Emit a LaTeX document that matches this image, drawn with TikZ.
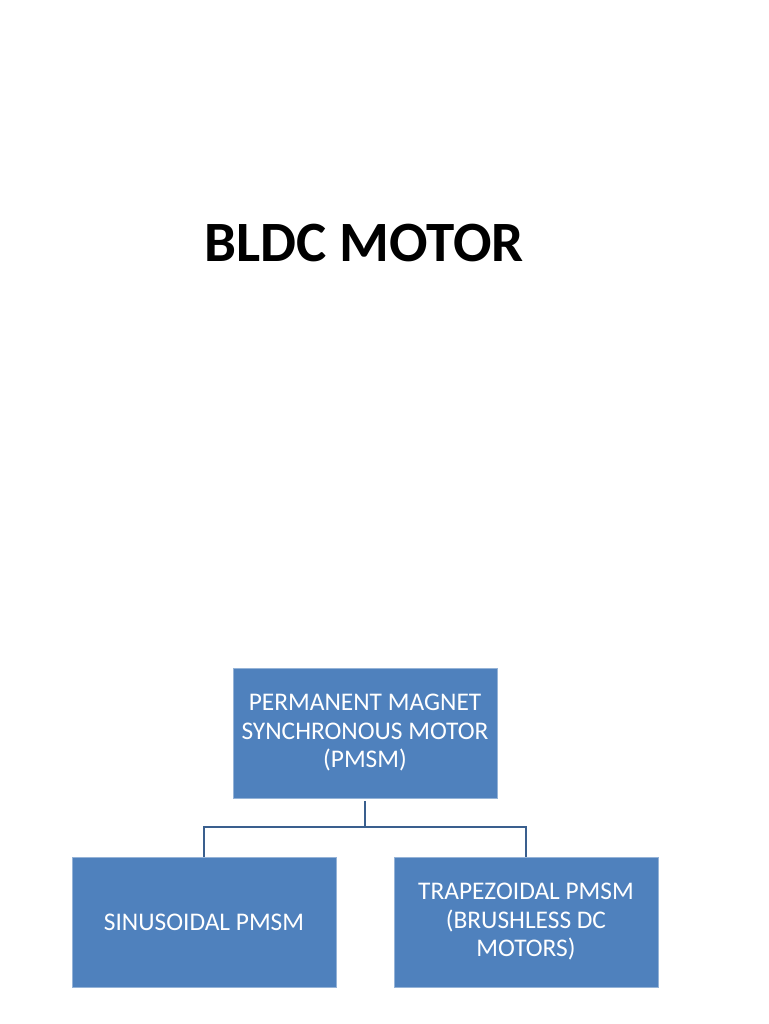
\documentclass[tikz,border=0pt]{standalone}
\usepackage{fontspec}
\setmainfont{Carlito}
\definecolor{boxblue}{HTML}{4F81BD}
\definecolor{linkblue}{HTML}{3A5F8E}
\begin{document}
\begin{tikzpicture}[x=1pt,y=-1pt,
  box/.style={fill=boxblue,draw=boxblue!60!white,line width=0.6pt,text=white,align=center,
    font=\fontsize{25.4}{28.5}\selectfont,inner sep=0pt},
  link/.style={draw=linkblue,line width=1.6pt}]
\useasboundingbox (0,0) rectangle (768,1024);
\fill[white] (0,0) rectangle (768,1024);
\node[font=\bfseries\fontsize{57}{64}\selectfont] (title) at (364,243) {BLDC MOTOR};
\node[box,minimum width=264pt,minimum height=130pt] (pmsm) at (365,733)
  {PERMANENT MAGNET\\SYNCHRONOUS MOTOR\\(PMSM)};
\node[box,minimum width=264pt,minimum height=130pt] (sin) at (204,922)
  {SINUSOIDAL PMSM};
\node[box,minimum width=264pt,minimum height=130pt] (trap) at (526,922)
  {TRAPEZOIDAL PMSM\\(BRUSHLESS DC\\MOTORS)};
\coordinate (j) at (365,827);
\draw[link] ([yshift=-3pt]pmsm.south) -- (j);
\draw[link] (j) -| (sin.north);
\draw[link] (j) -| (trap.north);
\end{tikzpicture}
\end{document}
